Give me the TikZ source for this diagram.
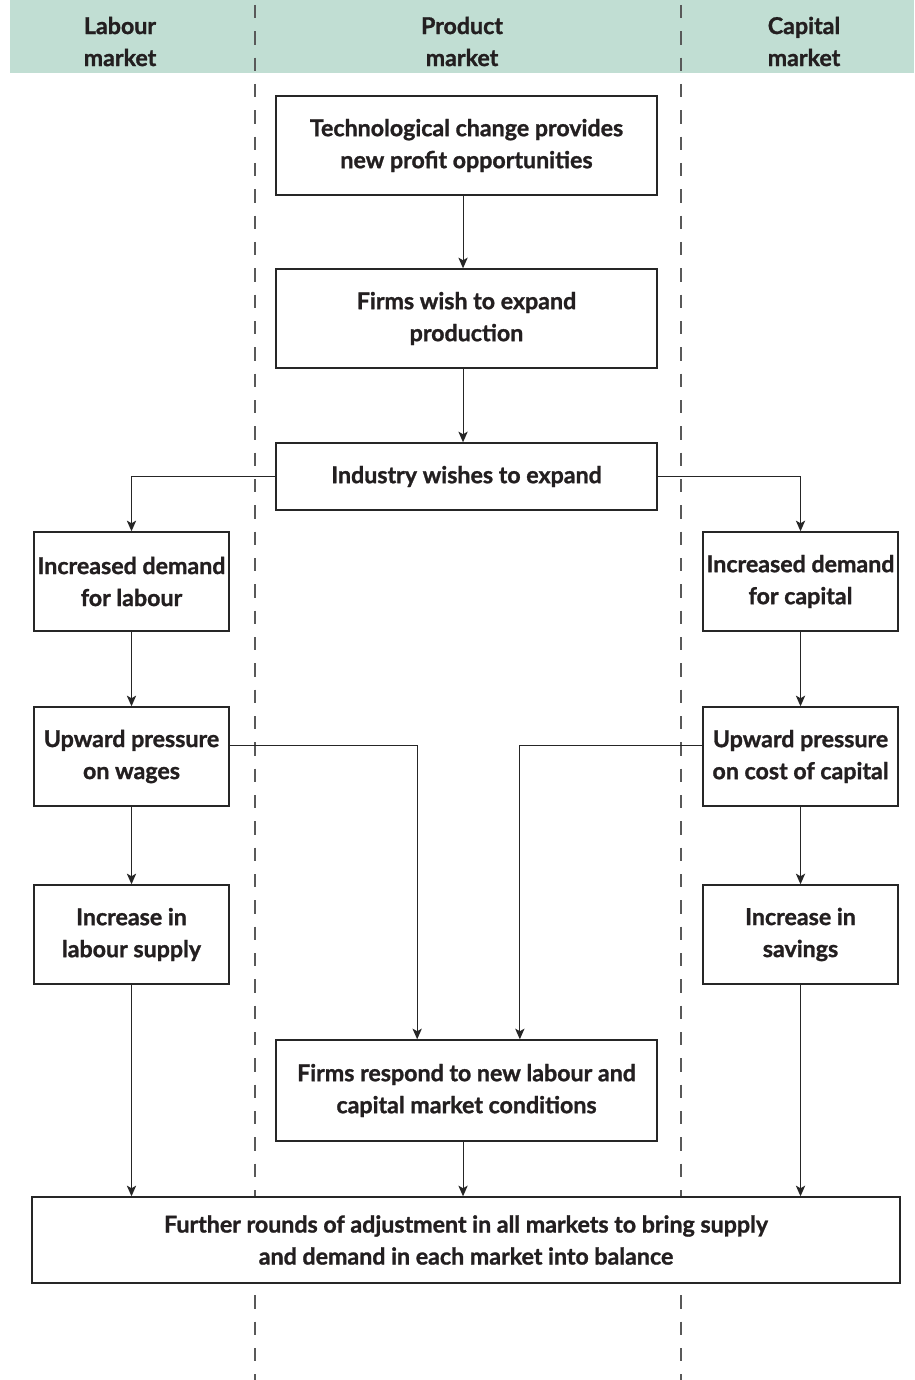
\documentclass[tikz,border=0pt]{standalone}
\usepackage{fontspec}
\setmainfont{Lato}[BoldFeatures={FakeBold=1.2}]
\usetikzlibrary{arrows.meta}

\definecolor{headgreen}{RGB}{193,222,211}
\definecolor{inkgrey}{RGB}{35,31,32}

\begin{document}
\begin{tikzpicture}[x=0.75pt,y=0.75pt,yscale=-1,xscale=1,
  font=\fontsize{17.4}{24}\selectfont\bfseries, text=inkgrey,
  stage/.style={draw=black!85, fill=white, line width=1.1pt, align=center, inner sep=0pt},
  wide/.style={stage, minimum width=285.75pt, minimum height=74.25pt},
  narrow/.style={stage, minimum width=146.25pt, minimum height=74.25pt},
  arr/.style={draw=black!85, line width=0.8pt, -{Stealth[length=8pt,width=7pt,inset=2pt]}},
  divider/.style={draw=black!65, line width=0.9pt, dash pattern=on 10pt off 9.75pt, dash phase=16pt}]
\useasboundingbox (0,0) rectangle (914,1380);

%Shape: Header band
\fill [headgreen] (10,0) rectangle (914,73);

%Dashed dividers
\draw [divider] (255,0) -- (255,1380);
\draw [divider] (681,0) -- (681,1380);

% Header Text
\node (hlab) at (120,41.5) [align=center] {Labour\\market};
\node (hprod) at (462,41.5) [align=center] {Product\\market};
\node (hcap) at (804,41.5) [align=center] {Capital\\market};

% Product market column
\node (tech) at (466.5,145.5) [wide] {Technological change provides\\new profit opportunities};
\node (expand) at (466.5,318.5) [wide] {Firms wish to expand\\production};
\node (industry) at (466.5,476.5) [wide, minimum height=50.25pt] {Industry wishes to expand};
\node (respond) at (466.5,1090.5) [wide, minimum height=75.75pt] {Firms respond to new labour and\\capital market conditions};

% Labour market column
\node (demlab) at (131.5,581.5) [narrow] {Increased demand\\for labour};
\node (wages) at (131.5,756.5) [narrow] {Upward pressure\\on wages};
\node (labsup) at (131.5,934.5) [narrow] {Increase in\\labour supply};

% Capital market column
\node (demcap) at (800.5,581.5) [narrow] {Increased demand\\for capital};
\node (costcap) at (800.5,756.5) [narrow] {Upward pressure\\on cost of capital};
\node (savings) at (800.5,934.5) [narrow] {Increase in\\savings};

% Bottom box
\node (further) at (466,1240) [stage, minimum width=651pt, minimum height=64.5pt] {Further rounds of adjustment in all markets to bring supply\\and demand in each market into balance};

% Arrows
\draw [arr] ([xshift=-2.6pt]tech.south) -- ([xshift=-2.6pt]expand.north);
\draw [arr] ([xshift=-2.6pt]expand.south) -- ([xshift=-2.6pt]industry.north);
\draw [arr] (industry.west) -| (demlab.north);
\draw [arr] (industry.east) -| (demcap.north);
\draw [arr] (demlab) -- (wages);
\draw [arr] (wages) -- (labsup);
\draw [arr] (demcap) -- (costcap);
\draw [arr] (costcap) -- (savings);
\draw [arr] ([yshift=-8.6pt]wages.east) -| ([xshift=-37pt]respond.north);
\draw [arr] ([yshift=-8.6pt]costcap.west) -| ([xshift=40pt]respond.north);
\draw [arr] (labsup.south) -- (labsup.south |- further.north);
\draw [arr] (savings.south) -- (savings.south |- further.north);
\draw [arr] ([xshift=-2.6pt]respond.south) -- ([xshift=-2.6pt]respond.south |- further.north);

\end{tikzpicture}
\end{document}
